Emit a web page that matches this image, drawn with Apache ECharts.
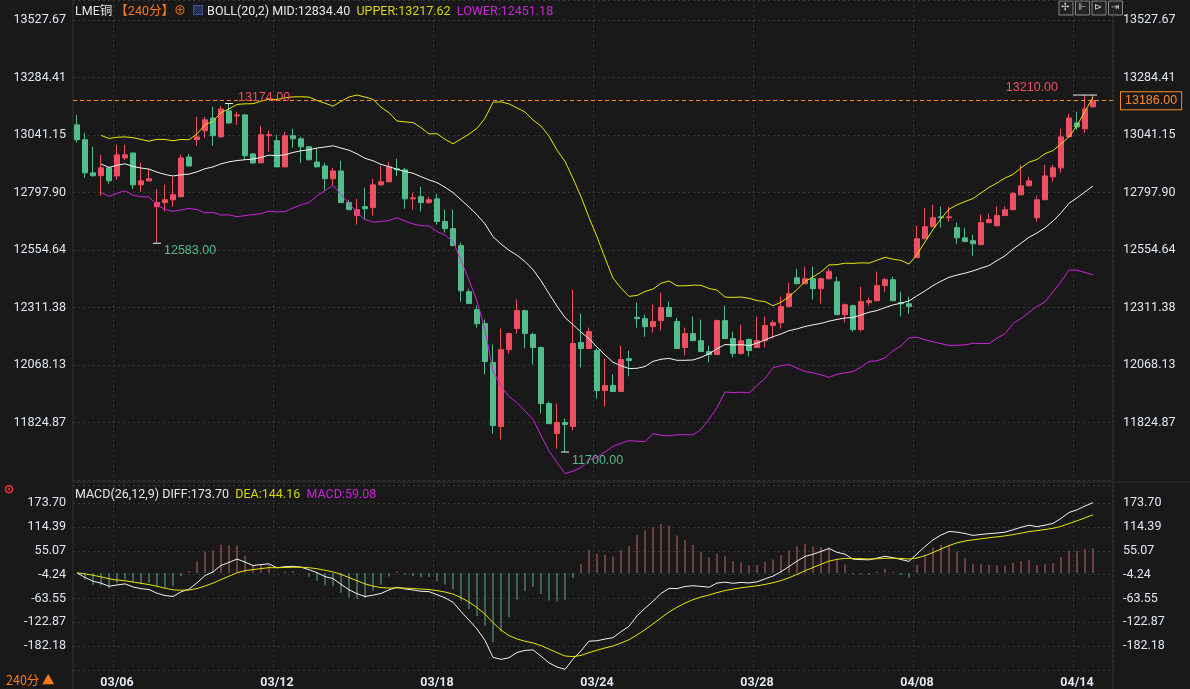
<!DOCTYPE html>
<html><head><meta charset="utf-8">
<script src="https://cdn.jsdelivr.net/npm/echarts@6/dist/echarts.min.js"></script>
<style>html,body{margin:0;padding:0;background:#191919;}#c{width:1190px;height:689px;}</style>
</head><body><div id="c"></div>
<script>
const opens=[13084,13021,12881,12869,12902,12868,12944,12965,12830,12847,12738,12755,12767,12780,12948,13021,13059,13113,13033,13143,13122,13126,12961,12923,13038,13017,12906,13038,13025,12991,12927,12910,12856,12889,12755,12700,12738,12734,12830,12843,12898,12894,12771,12780,12755,12771,12675,12645,12573,12378,12302,12243,12079,11808,12133,12222,12298,12197,12142,11905,11778,11825,11808,12163,12138,12129,11960,11981,11956,12095,12270,12264,12230,12256,12311,12252,12142,12201,12171,12125,12112,12256,12180,12117,12176,12142,12171,12235,12247,12315,12437,12412,12433,12391,12433,12420,12281,12319,12218,12332,12340,12404,12429,12332,12327,12522,12602,12653,12695,12691,12649,12606,12594,12577,12670,12657,12700,12725,12788,12826,12691,12767,12864,12902,13033,13092,13067,13160];
const closes=[13021,12881,12869,12902,12847,12957,12957,12830,12847,12856,12755,12767,12788,12944,12910,13033,13105,13038,13151,13092,13126,12953,12923,13042,13042,12906,13038,13025,12991,12936,12906,12856,12889,12755,12725,12725,12729,12830,12843,12906,12894,12771,12775,12755,12767,12675,12645,12573,12382,12328,12243,12083,11812,12133,12201,12298,12201,12142,11905,11820,11825,11816,12159,12138,12210,11960,11981,11956,12091,12087,12264,12230,12252,12311,12273,12138,12201,12171,12125,12112,12256,12180,12117,12171,12129,12171,12235,12247,12315,12370,12412,12433,12391,12433,12463,12281,12323,12218,12336,12340,12404,12429,12340,12327,12315,12602,12653,12691,12691,12695,12606,12590,12581,12670,12683,12700,12725,12793,12826,12847,12767,12868,12902,13033,13113,13075,13151,13186];
const lows=[13008,12860,12864,12784,12835,12852,12936,12813,12801,12843,12583,12717,12738,12780,12910,12995,13029,12995,13029,13088,13084,12936,12918,12923,12970,12906,12906,12987,12923,12936,12906,12805,12826,12755,12725,12662,12683,12700,12826,12843,12868,12729,12725,12717,12750,12662,12628,12573,12336,12328,12226,12028,11778,11753,12117,12201,12138,12070,11863,11820,11715,11700,11791,12058,12138,11926,11892,11956,11956,12020,12226,12188,12205,12214,12273,12138,12108,12171,12125,12079,12112,12180,12100,12112,12104,12142,12142,12180,12222,12315,12412,12412,12345,12328,12429,12281,12247,12209,12209,12319,12340,12378,12340,12273,12285,12522,12602,12653,12649,12674,12581,12590,12530,12577,12670,12657,12700,12725,12788,12826,12674,12767,12843,12881,13033,13063,13050,13160];
const highs=[13126,13050,12991,12957,12906,12999,12999,12965,12923,12898,12813,12830,12864,12957,12961,13118,13118,13160,13164,13174,13139,13130,12965,13080,13059,13042,13055,13067,13033,12995,12982,12923,12902,12932,12767,12771,12818,12856,12911,12927,12940,12902,12797,12822,12780,12792,12725,12725,12585,12391,12319,12260,12155,12222,12205,12345,12302,12205,12146,11914,11905,11842,12387,12285,12226,12138,12095,12028,12150,12129,12332,12281,12323,12374,12336,12268,12226,12273,12260,12150,12260,12319,12209,12239,12180,12273,12273,12256,12357,12416,12475,12484,12484,12437,12475,12442,12328,12323,12399,12353,12463,12437,12442,12378,12357,12657,12733,12746,12738,12738,12670,12649,12619,12704,12708,12738,12738,12801,12915,12864,12784,12915,12915,13067,13130,13139,13210,13210];
const tickIndex=[5,25,45,65,85,105,125];
const tickLabels=['03/06','03/12','03/18','03/24','03/28','04/08','04/14'];
const priceTicks=[13527.67,13284.41,13041.15,12797.90,12554.64,12311.38,12068.13,11824.87];
const macdTicks=[173.70,114.39,55.07,-4.24,-63.55,-122.87,-182.18];

const N=closes.length, PAD=2;
const cats=[];for(let i=0;i<N+PAD;i++)cats.push(String(i));
const labelOf={};tickIndex.forEach((t,k)=>labelOf[t]=tickLabels[k]);
const kdata=opens.map((o,i)=>[o,closes[i],lows[i],highs[i]]);
const mid=[],up=[],lo=[];
for(let i=0;i<N;i++){
  const s=Math.max(0,i-19);const w=closes.slice(s,i+1);
  if(w.length<4){mid.push(null);up.push(null);lo.push(null);continue;}
  const m=w.reduce((a,b)=>a+b,0)/w.length;
  const sd=Math.sqrt(w.reduce((a,b)=>a+(b-m)*(b-m),0)/w.length);
  mid.push(+m.toFixed(2));up.push(+(m+2*sd).toFixed(2));lo.push(+(m-2*sd).toFixed(2));
}
let e12=closes[0],e26=closes[0],dea=0;const dif=[],deaA=[],hist=[];
for(let i=0;i<N;i++){
  e12=e12*11/13+closes[i]*2/13;e26=e26*25/27+closes[i]*2/27;
  const d=e12-e26;dea=dea*8/10+d*2/10;
  dif.push(+d.toFixed(2));deaA.push(+dea.toFixed(2));
  const h=2*(d-dea);hist.push({value:+h.toFixed(2),itemStyle:{color:h>=0?'#d0606a':'#5fae8a'}});
}
const lab={color:'#dfe7f2',fontSize:12.5,fontFamily:'Roboto, Arial, sans-serif'};
const pStep=243.26, pMin=11581.61, pMax=13612;
const mStep=59.31, mMin=-241.49, mMax=218.7;
function nearest(arr,v){let b=arr[0];arr.forEach(t=>{if(Math.abs(t-v)<Math.abs(b-v))b=t;});return b.toFixed(2);}
function yAx(gi,min,max,step,pos,ticks){return {type:'value',gridIndex:gi,min:min,max:max,interval:step,position:pos,scale:true,
  axisLine:{show:false},axisTick:{show:false},
  axisLabel:Object.assign({},lab,{showMinLabel:false,showMaxLabel:false,formatter:v=>nearest(ticks,v),margin:pos==='left'?7:10}),
  splitLine:{show:pos==='left',lineStyle:{color:'#383838',type:[2,3]}}};}
const opt={
  backgroundColor:'#191919',animation:false,
  title:[{text:'{a|LME铜 }{b|【240分】}{c|⊕ } {d|▨} {e|BOLL(20,2) MID:12834.40  }{f|UPPER:13217.62  }{g|LOWER:12451.18}',left:70,top:1,
    textStyle:{fontSize:12.5,fontWeight:'normal',fontFamily:'Roboto, "Noto Sans CJK SC", sans-serif',rich:{
      a:{color:'#e6e6e6',fontSize:12.5},b:{color:'#ff7a1a',fontSize:12.5},c:{color:'#ff7a1a',fontSize:12},d:{color:'#5577ee',fontSize:12},
      e:{color:'#e6e6e6',fontSize:12.5},f:{color:'#d6d600',fontSize:12.5},g:{color:'#cc22dd',fontSize:12.5}}}},
   {text:'{e|MACD(26,12,9) DIFF:173.70  }{f|DEA:144.16  }{g|MACD:59.08}',left:70,top:483,
    textStyle:{fontSize:12.5,fontWeight:'normal',fontFamily:'Roboto, sans-serif',rich:{
      e:{color:'#e6e6e6',fontSize:12.5},f:{color:'#d6d600',fontSize:12.5},g:{color:'#cc22dd',fontSize:12.5}}}}
  ],
  graphic:[
    {type:'line',shape:{x1:73,y1:482,x2:1190,y2:482},style:{stroke:'#303030',lineWidth:1}},
    {type:'line',shape:{x1:73,y1:0,x2:73,y2:689},style:{stroke:'#303030',lineWidth:1}},
    {type:'line',shape:{x1:1113,y1:0,x2:1113,y2:689},style:{stroke:'#303030',lineWidth:1}},
    {type:'text',left:6,top:674,style:{text:'240分 ▲',fill:'#ff7a1a',fontSize:12.5,fontFamily:'"Noto Sans CJK SC", sans-serif'}},
    {type:'text',left:4,top:484,style:{text:'⊙',fill:'#ff3030',fontSize:12,fontWeight:'bold'}},
    ...[0,1,2,3].map(k=>({type:'rect',shape:{x:1059+k*16.5,y:1,width:14,height:14},style:{fill:'#222',stroke:'#888',lineWidth:1}})),
    ...[0,1,2,3].map(k=>({type:'text',x:1061+k*16.5,y:2,style:{text:['✢','⊩','⊳','⇥'][k],fill:'#ccc',fontSize:10}}))
  ],
  grid:[{left:73,width:1040,top:0,height:480},{left:73,width:1040,top:485,bottom:19}],
  xAxis:[
    {type:'category',gridIndex:0,data:cats,boundaryGap:true,axisLine:{show:false},axisTick:{show:false},axisLabel:{show:false},
     splitLine:{show:true,interval:(i)=>labelOf[i]!==undefined,lineStyle:{color:'#383838',type:[2,3]}}},
    {type:'category',gridIndex:1,data:cats,boundaryGap:true,axisLine:{show:false},axisTick:{show:false},
     axisLabel:Object.assign({},lab,{fontWeight:'bold',interval:(i)=>labelOf[i]!==undefined,formatter:(v,i)=>labelOf[i]||'',margin:6}),
     splitLine:{show:true,interval:(i)=>labelOf[i]!==undefined,lineStyle:{color:'#383838',type:[2,3]}}}
  ],
  yAxis:[yAx(0,pMin,pMax,pStep,'left',priceTicks),yAx(0,pMin,pMax,pStep,'right',priceTicks),yAx(1,mMin,mMax,mStep,'left',macdTicks),yAx(1,mMin,mMax,mStep,'right',macdTicks)],
  series:[
    {type:'candlestick',xAxisIndex:0,yAxisIndex:0,data:kdata,barWidth:6,
     itemStyle:{color:'#ef4f60',color0:'#52bd8b',borderColor:'#ef4f60',borderColor0:'#52bd8b',borderWidth:1},
     markPoint:{symbol:'rect',symbolSize:[8,1],silent:true,itemStyle:{color:'#eee'},data:[
       {coord:[19,13174],label:{show:true,formatter:'13174.00',color:'#ef4f60',fontSize:12.5,position:'right',offset:[0,-6]}},
       {coord:[10,12583],label:{show:true,formatter:'12583.00',color:'#52bd8b',fontSize:12.5,position:'right',offset:[-2,7]}},
       {coord:[61,11700],label:{show:true,formatter:'11700.00',color:'#52bd8b',fontSize:12.5,position:'right',offset:[-2,9]}},
       {coord:[126,13210],symbolSize:[24,1],label:{show:true,formatter:'13210.00',color:'#ef4f60',fontSize:12.5,position:'left',offset:[-10,-7]}}]},
     markLine:{symbol:'none',silent:true,lineStyle:{color:'#ff8a20',type:[4,3],width:1},
       label:{position:'end',formatter:'13186.00',color:'#ff8a20',fontSize:12.5,borderColor:'#ff8a20',borderWidth:1,padding:[2,4],backgroundColor:'#191919',distance:8},
       data:[{yAxis:13186}]}},
    {type:'line',xAxisIndex:0,yAxisIndex:0,data:mid,symbol:'none',lineStyle:{color:'#f2f2f2',width:1}},
    {type:'line',xAxisIndex:0,yAxisIndex:0,data:up,symbol:'none',lineStyle:{color:'#e6e600',width:1}},
    {type:'line',xAxisIndex:0,yAxisIndex:0,data:lo,symbol:'none',lineStyle:{color:'#d020e0',width:1}},
    {type:'bar',xAxisIndex:1,yAxisIndex:2,data:hist,barWidth:1},
    {type:'line',xAxisIndex:1,yAxisIndex:2,data:dif,symbol:'none',lineStyle:{color:'#f2f2f2',width:1}},
    {type:'line',xAxisIndex:1,yAxisIndex:2,data:deaA,symbol:'none',lineStyle:{color:'#e6e600',width:1}}
  ]
};
echarts.init(document.getElementById('c')).setOption(opt);
</script></body></html>
